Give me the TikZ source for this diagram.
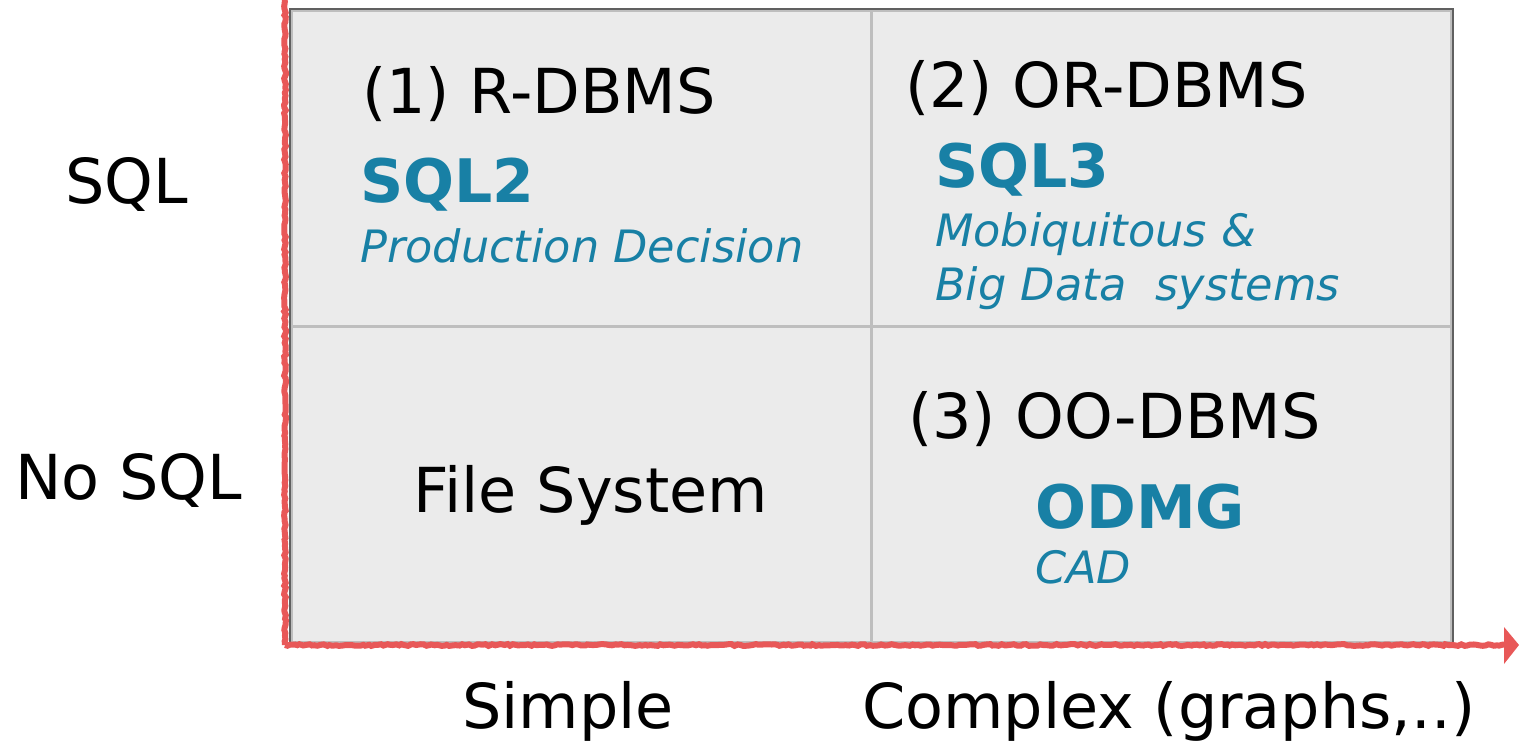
\documentclass[tikz,border=0pt]{standalone}
\usepackage{fontspec}
\setmainfont{DejaVu Sans}
\usetikzlibrary{arrows.meta,decorations.pathmorphing}
\definecolor{cellfill}{RGB}{235,235,235}
\definecolor{frame}{RGB}{96,96,96}
\definecolor{divider}{RGB}{190,190,190}
\definecolor{axisred}{RGB}{232,88,88}
\definecolor{tealblue}{RGB}{24,128,165}
\tikzset{
  cell/.style={fill=cellfill, draw=divider, line width=3pt, minimum width=580pt, minimum height=316pt, inner sep=0pt, anchor=north west},
  axis/.style={draw=axisred, line width=6pt, decorate, decoration={random steps, segment length=3pt, amplitude=0.9pt}},
  lbl/.style={anchor=base west, inner sep=0pt, font=\fontsize{62}{70}\selectfont},
  big/.style={anchor=base west, inner sep=0pt, text=tealblue, font=\fontsize{60}{68}\selectfont\bfseries},
  note/.style={anchor=base west, inner sep=0pt, text=tealblue, font=\fontsize{44.6}{52}\selectfont\itshape},
}
\begin{document}
\begin{tikzpicture}[x=1pt,y=-1pt]
\useasboundingbox (0,0) rectangle (1519,741);

% quadrant cells
\node[cell] (c11) at (290,9) {};
\node[cell] (c12) at (870,9) {};
\node[cell] (c21) at (290,325) {};
\node[cell] (c22) at (870,325) {};
\draw[frame, line width=2.5pt] (c11.north west) rectangle (c22.south east);

% axes
\coordinate (top) at (285,0);
\coordinate (origin) at (285,645);
\coordinate (tip) at (1508,645);
\path[axis] (top) -- (origin);
\path[axis] (origin) -- (tip);
\fill[axisred] (1504,627) -- (1519,645) -- (1504,664) -- cycle;

% row labels
\node[lbl] (sql) at (65,204) {SQL};
\node[lbl] (nosql) at (15,499) {No SQL};

% column labels
\node[lbl] (simple) at (462,728) {Simple};
\node[lbl] (complex) at (862,728) {Complex (graphs,..)};

% cell (1)
\node[lbl] (rdbms) at (362,114) {(1) R-DBMS};
\node[big] (sql2) at (360,202) {SQL2};
\node[note] (prod) at (360,262) {Production Decision};

% cell (2)
\node[lbl] (ordbms) at (905,108) {(2) OR-DBMS};
\node[big] (sql3) at (935,188) {SQL3};
\node[note] (mobi) at (935,247) {Mobiquitous \&};
\node[note] (bigdata) at (935,300) {Big Data\ \ systems};

% cell without SQL, simple
\node[lbl] (files) at (413,512) {File System};

% cell (3)
\node[lbl] (oodbms) at (908,438) {(3) OO-DBMS};
\node[big] (odmg) at (1035,528) {ODMG};
\node[note] (cad) at (1035,583) {CAD};
\end{tikzpicture}
\end{document}
